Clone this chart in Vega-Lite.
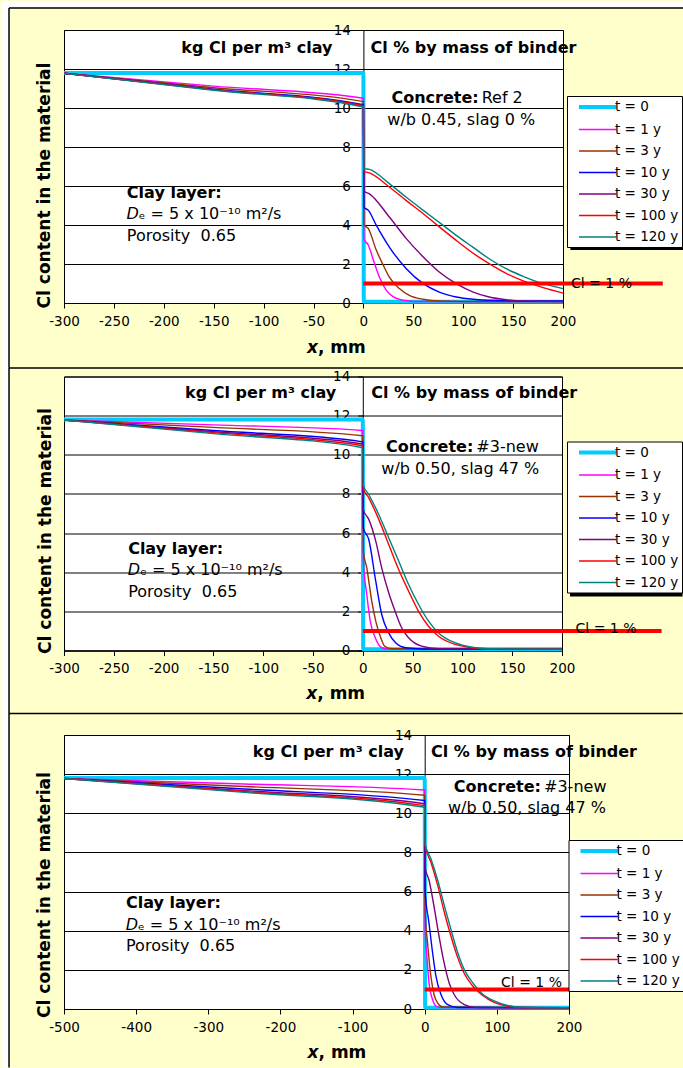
{
  "$schema": "https://vega.github.io/schema/vega-lite/v6.json",
  "background": "#FFFFCC",
  "padding": 0,
  "spacing": -4.5,
  "columns": 1,
  "align": "none",
  "config": {
    "font": "DejaVu Sans",
    "view": {"fill": "white", "stroke": "black", "strokeWidth": 1},
    "axis": {"labelFont": "DejaVu Sans", "labelFontSize": 13.5, "labelColor": "black", "domainColor": "black", "tickColor": "black", "gridColor": "black", "gridOpacity": 1, "gridWidth": 1, "titleFont": "DejaVu Sans", "titleFontWeight": "bold", "titleFontSize": 17, "titleColor": "black", "tickSize": 5, "labelOverlap": false, "labelExpr": "replace(datum.label, '\u2212', '-')"},
    "axisY": {"labelPadding": 8, "titleBaseline": "alphabetic", "titleAlign": "center", "titleAngle": -90, "tickCount": 8},
    "axisX": {"labelPadding": 6, "labelFlush": false, "grid": false, "tickCount": 12},
    "legend": {"labelFont": "DejaVu Sans", "labelFontSize": 13.5, "labelColor": "black", "fillColor": "white", "strokeColor": "black", "padding": 3, "rowPadding": 7.5, "labelLimit": 300},
    "text": {"font": "DejaVu Sans", "color": "black"}
  },
  "resolve": {
    "scale": {"x": "independent", "y": "independent", "color": "independent", "strokeWidth": "independent"},
    "legend": {"color": "independent", "strokeWidth": "independent"}
  },
  "concat": [
    {
      "width": 499, "height": 273,
      "layer": [
        {"data": {"values": [{}]}, "mark": {"type": "rect", "fill": "white"}, "encoding": {"x": {"datum": -363.1}, "x2": {"datum": -355.1}, "y": {"datum": -3.33}, "y2": {"datum": 15.49}}},
        {"data": {"values": [{}]}, "mark": {"type": "rect", "fill": "white"}, "encoding": {"x": {"datum": -363.1}, "x2": {"datum": 320.6}, "y": {"datum": 15.13}, "y2": {"datum": 15.49}}},
        {"data": {"values": [{}]}, "mark": {"type": "rule", "color": "black", "strokeWidth": 1.5}, "encoding": {"x": {"datum": -355.1}, "y": {"datum": -3.33}, "y2": {"datum": 15.13}}},
        {"data": {"values": [{}]}, "mark": {"type": "rule", "color": "black", "strokeWidth": 1.5}, "encoding": {"x": {"datum": -355.1}, "x2": {"datum": 320.6}, "y": {"datum": 15.13}}},
        {"data": {"values": [{}]}, "mark": {"type": "rule", "color": "black", "strokeWidth": 1.5}, "encoding": {"x": {"datum": -355.1}, "x2": {"datum": 320.6}, "y": {"datum": -3.33}}},
        {
          "data": {"values": [
            {"t": "t = 0", "x": -300, "y": 11.8}, {"t": "t = 0", "x": 0, "y": 11.8}, {"t": "t = 0", "x": 0.4, "y": 0.06}, {"t": "t = 0", "x": 200, "y": 0.06},
            {"t": "t = 1 y", "x": -300, "y": 11.78}, {"t": "t = 1 y", "x": -150, "y": 11.12}, {"t": "t = 1 y", "x": 0, "y": 10.5}, {"t": "t = 1 y", "x": 0.5, "y": 3.3}, {"t": "t = 1 y", "x": 5, "y": 2.96}, {"t": "t = 1 y", "x": 10, "y": 2.2}, {"t": "t = 1 y", "x": 16, "y": 1.33}, {"t": "t = 1 y", "x": 23, "y": 0.65}, {"t": "t = 1 y", "x": 30, "y": 0.31}, {"t": "t = 1 y", "x": 40, "y": 0.14}, {"t": "t = 1 y", "x": 50, "y": 0.08}, {"t": "t = 1 y", "x": 100, "y": 0.07}, {"t": "t = 1 y", "x": 200, "y": 0.07},
            {"t": "t = 3 y", "x": -300, "y": 11.78}, {"t": "t = 3 y", "x": -150, "y": 11.04}, {"t": "t = 3 y", "x": 0, "y": 10.33}, {"t": "t = 3 y", "x": 0.5, "y": 4.03}, {"t": "t = 3 y", "x": 5, "y": 3.81}, {"t": "t = 3 y", "x": 13, "y": 2.7}, {"t": "t = 3 y", "x": 20, "y": 1.93}, {"t": "t = 3 y", "x": 26, "y": 1.33}, {"t": "t = 3 y", "x": 36, "y": 0.74}, {"t": "t = 3 y", "x": 46, "y": 0.39}, {"t": "t = 3 y", "x": 60, "y": 0.19}, {"t": "t = 3 y", "x": 76, "y": 0.1}, {"t": "t = 3 y", "x": 100, "y": 0.08}, {"t": "t = 3 y", "x": 200, "y": 0.07},
            {"t": "t = 10 y", "x": -300, "y": 11.78}, {"t": "t = 10 y", "x": -150, "y": 10.96}, {"t": "t = 10 y", "x": 0, "y": 10.17}, {"t": "t = 10 y", "x": 0.5, "y": 4.92}, {"t": "t = 10 y", "x": 5, "y": 4.75}, {"t": "t = 10 y", "x": 13, "y": 3.98}, {"t": "t = 10 y", "x": 26, "y": 2.87}, {"t": "t = 10 y", "x": 43, "y": 1.76}, {"t": "t = 10 y", "x": 60, "y": 0.99}, {"t": "t = 10 y", "x": 76, "y": 0.56}, {"t": "t = 10 y", "x": 93, "y": 0.31}, {"t": "t = 10 y", "x": 110, "y": 0.19}, {"t": "t = 10 y", "x": 126, "y": 0.14}, {"t": "t = 10 y", "x": 150, "y": 0.11}, {"t": "t = 10 y", "x": 200, "y": 0.1},
            {"t": "t = 30 y", "x": -300, "y": 11.78}, {"t": "t = 30 y", "x": -150, "y": 10.94}, {"t": "t = 30 y", "x": 0, "y": 10.13}, {"t": "t = 30 y", "x": 0.5, "y": 5.74}, {"t": "t = 30 y", "x": 6, "y": 5.6}, {"t": "t = 30 y", "x": 26, "y": 4.41}, {"t": "t = 30 y", "x": 43, "y": 3.3}, {"t": "t = 30 y", "x": 60, "y": 2.36}, {"t": "t = 30 y", "x": 76, "y": 1.59}, {"t": "t = 30 y", "x": 93, "y": 0.99}, {"t": "t = 30 y", "x": 110, "y": 0.56}, {"t": "t = 30 y", "x": 126, "y": 0.31}, {"t": "t = 30 y", "x": 143, "y": 0.17}, {"t": "t = 30 y", "x": 160, "y": 0.1}, {"t": "t = 30 y", "x": 200, "y": 0.08},
            {"t": "t = 100 y", "x": -300, "y": 11.78}, {"t": "t = 100 y", "x": -150, "y": 10.93}, {"t": "t = 100 y", "x": 0, "y": 10.1}, {"t": "t = 100 y", "x": 0.5, "y": 6.75}, {"t": "t = 100 y", "x": 6, "y": 6.67}, {"t": "t = 100 y", "x": 26, "y": 5.95}, {"t": "t = 100 y", "x": 43, "y": 5.25}, {"t": "t = 100 y", "x": 60, "y": 4.58}, {"t": "t = 100 y", "x": 73, "y": 4.03}, {"t": "t = 100 y", "x": 93, "y": 3.21}, {"t": "t = 100 y", "x": 110, "y": 2.55}, {"t": "t = 100 y", "x": 126, "y": 2.02}, {"t": "t = 100 y", "x": 143, "y": 1.52}, {"t": "t = 100 y", "x": 160, "y": 1.13}, {"t": "t = 100 y", "x": 180, "y": 0.79}, {"t": "t = 100 y", "x": 200, "y": 0.51},
            {"t": "t = 120 y", "x": -300, "y": 11.78}, {"t": "t = 120 y", "x": -150, "y": 10.91}, {"t": "t = 120 y", "x": 0, "y": 10.05}, {"t": "t = 120 y", "x": 0.5, "y": 6.89}, {"t": "t = 120 y", "x": 6, "y": 6.85}, {"t": "t = 120 y", "x": 26, "y": 6.12}, {"t": "t = 120 y", "x": 43, "y": 5.42}, {"t": "t = 120 y", "x": 60, "y": 4.75}, {"t": "t = 120 y", "x": 80, "y": 3.98}, {"t": "t = 120 y", "x": 93, "y": 3.47}, {"t": "t = 120 y", "x": 110, "y": 2.85}, {"t": "t = 120 y", "x": 126, "y": 2.27}, {"t": "t = 120 y", "x": 143, "y": 1.76}, {"t": "t = 120 y", "x": 160, "y": 1.37}, {"t": "t = 120 y", "x": 180, "y": 0.99}, {"t": "t = 120 y", "x": 200, "y": 0.74}
          ]},
          "mark": {"type": "line", "interpolate": "monotone"},
          "encoding": {
            "x": {"field": "x", "type": "quantitative", "scale": {"domain": [-300, 200], "nice": false, "zero": false}, "axis": {"values": [-300, -250, -200, -150, -100, -50, 0, 50, 100, 150, 200], "title": null}},
            "y": {"field": "y", "type": "quantitative", "scale": {"domain": [0, 14], "nice": false}, "axis": {"values": [0, 2, 4, 6, 8, 10, 12, 14], "offset": -299.4, "grid": true, "title": "Cl content in the material", "titleX": -314, "titleY": 155}},
            "color": {"field": "t", "type": "nominal", "scale": {"domain": ["t = 0", "t = 1 y", "t = 3 y", "t = 10 y", "t = 30 y", "t = 100 y", "t = 120 y"], "range": ["#00CCFF", "#FF00FF", "#993300", "#0000FF", "#800080", "#FF0000", "#008080"]}, "legend": {"orient": "none", "legendX": 503, "legendY": 66, "title": null, "symbolType": "M-3.1,0L3.1,0", "symbolSize": 144, "symbolOffset": 19.6, "labelOffset": 9.4}},
            "strokeWidth": {"field": "t", "type": "nominal", "scale": {"type": "ordinal", "domain": ["t = 0", "t = 1 y", "t = 3 y", "t = 10 y", "t = 30 y", "t = 100 y", "t = 120 y"], "range": [4, 1.4, 1.4, 1.4, 1.4, 1.4, 1.4]}, "legend": {"orient": "none", "legendX": 503, "legendY": 66, "title": null, "symbolType": "M-3.1,0L3.1,0", "symbolSize": 144, "symbolOffset": 19.6, "labelOffset": 9.4}}
          }
        },
        {"data": {"values": [{}]}, "mark": {"type": "rule", "color": "#FF0000", "strokeWidth": 4}, "encoding": {"x": {"datum": 0}, "x2": {"datum": 300}, "y": {"datum": 1}}},
        {"data": {"values": [{}]}, "mark": {"type": "rect", "fill": "black"}, "encoding": {"x": {"datum": 207.4}, "x2": {"datum": 320.6}, "y": {"datum": 2.72}, "y2": {"datum": 10.46}}},
        {"data": {"values": [{"x": -31, "y": 13.1, "text": "kg Cl per m³ clay"}, {"x": 115.5, "y": 10.5, "text": "Concrete:"}]}, "mark": {"type": "text", "fontSize": 16, "fontWeight": "bold", "align": "right", "baseline": "middle"}, "encoding": {"x": {"field": "x", "type": "quantitative"}, "y": {"field": "y", "type": "quantitative"}, "text": {"field": "text"}}},
        {"data": {"values": [{"x": 7, "y": 13.1, "text": "Cl % by mass of binder"}, {"x": -237, "y": 5.65, "text": "Clay layer:"}]}, "mark": {"type": "text", "fontSize": 16, "fontWeight": "bold", "align": "left", "baseline": "middle"}, "encoding": {"x": {"field": "x", "type": "quantitative"}, "y": {"field": "y", "type": "quantitative"}, "text": {"field": "text"}}},
        {"data": {"values": [{"x": -45.5, "y": -2.3, "text": ", mm"}]}, "mark": {"type": "text", "fontSize": 17, "fontWeight": "bold", "align": "left", "baseline": "middle"}, "encoding": {"x": {"field": "x", "type": "quantitative"}, "y": {"field": "y", "type": "quantitative"}, "text": {"field": "text"}}},
        {"data": {"values": [{"x": 118.5, "y": 10.5, "text": "Ref 2"}, {"x": 24, "y": 9.4, "text": "w/b 0.45, slag 0 %"}, {"x": -225, "y": 4.55, "text": "ₑ = 5 x 10⁻¹⁰ m²/s"}, {"x": -237, "y": 3.45, "text": "Porosity\u00a0 0.65"}]}, "mark": {"type": "text", "fontSize": 16, "align": "left", "baseline": "middle"}, "encoding": {"x": {"field": "x", "type": "quantitative"}, "y": {"field": "y", "type": "quantitative"}, "text": {"field": "text"}}},
        {"data": {"values": [{"x": -225, "y": 4.55, "text": "D"}]}, "mark": {"type": "text", "fontSize": 16, "fontStyle": "italic", "align": "right", "baseline": "middle"}, "encoding": {"x": {"field": "x", "type": "quantitative"}, "y": {"field": "y", "type": "quantitative"}, "text": {"field": "text"}}},
        {"data": {"values": [{"x": -45.5, "y": -2.3, "text": "x"}]}, "mark": {"type": "text", "fontSize": 17, "fontStyle": "italic", "fontWeight": "bold", "align": "right", "baseline": "middle"}, "encoding": {"x": {"field": "x", "type": "quantitative"}, "y": {"field": "y", "type": "quantitative"}, "text": {"field": "text"}}},
        {"data": {"values": [{"x": 208, "y": 1.0, "text": "Cl = 1 %"}]}, "mark": {"type": "text", "fontSize": 14, "align": "left", "baseline": "middle"}, "encoding": {"x": {"field": "x", "type": "quantitative"}, "y": {"field": "y", "type": "quantitative"}, "text": {"field": "text"}}}
      ]
    },
    {
      "width": 498, "height": 274,
      "layer": [
        {"data": {"values": [{}]}, "mark": {"type": "rect", "fill": "white"}, "encoding": {"x": {"datum": -363.25}, "x2": {"datum": -355.2}, "y": {"datum": -3.22}, "y2": {"datum": 14.46}}},
        {"data": {"values": [{}]}, "mark": {"type": "rule", "color": "black", "strokeWidth": 1.5}, "encoding": {"x": {"datum": -355.2}, "y": {"datum": -3.22}, "y2": {"datum": 14.46}}},
        {"data": {"values": [{}]}, "mark": {"type": "rule", "color": "black", "strokeWidth": 1.5}, "encoding": {"x": {"datum": -355.2}, "x2": {"datum": 321.1}, "y": {"datum": -3.22}}},
        {
          "data": {"values": [
            {"t": "t = 0", "x": -300, "y": 11.8}, {"t": "t = 0", "x": 0, "y": 11.8}, {"t": "t = 0", "x": 0.4, "y": 0.06}, {"t": "t = 0", "x": 200, "y": 0.06},
            {"t": "t = 1 y", "x": -300, "y": 11.78}, {"t": "t = 1 y", "x": -150, "y": 11.53}, {"t": "t = 1 y", "x": 0, "y": 11.24}, {"t": "t = 1 y", "x": 0.5, "y": 4.6}, {"t": "t = 1 y", "x": 4, "y": 2.86}, {"t": "t = 1 y", "x": 7.5, "y": 1.5}, {"t": "t = 1 y", "x": 12.5, "y": 0.65}, {"t": "t = 1 y", "x": 19, "y": 0.14}, {"t": "t = 1 y", "x": 25, "y": 0.08}, {"t": "t = 1 y", "x": 200, "y": 0.07},
            {"t": "t = 3 y", "x": -300, "y": 11.78}, {"t": "t = 3 y", "x": -150, "y": 11.4}, {"t": "t = 3 y", "x": 0, "y": 10.97}, {"t": "t = 3 y", "x": 0.5, "y": 5.08}, {"t": "t = 3 y", "x": 4, "y": 4.22}, {"t": "t = 3 y", "x": 9, "y": 2.52}, {"t": "t = 3 y", "x": 13, "y": 1.5}, {"t": "t = 3 y", "x": 18, "y": 0.65}, {"t": "t = 3 y", "x": 22, "y": 0.22}, {"t": "t = 3 y", "x": 29, "y": 0.09}, {"t": "t = 3 y", "x": 200, "y": 0.07},
            {"t": "t = 10 y", "x": -300, "y": 11.78}, {"t": "t = 10 y", "x": -150, "y": 11.24}, {"t": "t = 10 y", "x": 0, "y": 10.66}, {"t": "t = 10 y", "x": 0.5, "y": 6.27}, {"t": "t = 10 y", "x": 6, "y": 5.67}, {"t": "t = 10 y", "x": 13, "y": 3.54}, {"t": "t = 10 y", "x": 19, "y": 1.84}, {"t": "t = 10 y", "x": 26, "y": 0.9}, {"t": "t = 10 y", "x": 33, "y": 0.39}, {"t": "t = 10 y", "x": 43, "y": 0.14}, {"t": "t = 10 y", "x": 60, "y": 0.08}, {"t": "t = 10 y", "x": 200, "y": 0.07},
            {"t": "t = 30 y", "x": -300, "y": 11.78}, {"t": "t = 30 y", "x": -150, "y": 11.18}, {"t": "t = 30 y", "x": 0, "y": 10.55}, {"t": "t = 30 y", "x": 0.5, "y": 7.2}, {"t": "t = 30 y", "x": 6, "y": 6.7}, {"t": "t = 30 y", "x": 13, "y": 5.59}, {"t": "t = 30 y", "x": 19, "y": 4.22}, {"t": "t = 30 y", "x": 26, "y": 2.95}, {"t": "t = 30 y", "x": 33, "y": 1.93}, {"t": "t = 30 y", "x": 39, "y": 1.16}, {"t": "t = 30 y", "x": 46, "y": 0.65}, {"t": "t = 30 y", "x": 59, "y": 0.22}, {"t": "t = 30 y", "x": 76, "y": 0.09}, {"t": "t = 30 y", "x": 200, "y": 0.07},
            {"t": "t = 100 y", "x": -300, "y": 11.78}, {"t": "t = 100 y", "x": -150, "y": 11.13}, {"t": "t = 100 y", "x": 0, "y": 10.46}, {"t": "t = 100 y", "x": 0.5, "y": 8.28}, {"t": "t = 100 y", "x": 6, "y": 7.8}, {"t": "t = 100 y", "x": 16, "y": 6.7}, {"t": "t = 100 y", "x": 26, "y": 5.42}, {"t": "t = 100 y", "x": 36, "y": 4.14}, {"t": "t = 100 y", "x": 46, "y": 3.03}, {"t": "t = 100 y", "x": 56, "y": 2.0}, {"t": "t = 100 y", "x": 66, "y": 1.24}, {"t": "t = 100 y", "x": 76, "y": 0.73}, {"t": "t = 100 y", "x": 93, "y": 0.31}, {"t": "t = 100 y", "x": 110, "y": 0.14}, {"t": "t = 100 y", "x": 130, "y": 0.08}, {"t": "t = 100 y", "x": 200, "y": 0.07},
            {"t": "t = 120 y", "x": -300, "y": 11.78}, {"t": "t = 120 y", "x": -150, "y": 11.08}, {"t": "t = 120 y", "x": 0, "y": 10.36}, {"t": "t = 120 y", "x": 0.5, "y": 8.45}, {"t": "t = 120 y", "x": 6, "y": 7.97}, {"t": "t = 120 y", "x": 16, "y": 6.95}, {"t": "t = 120 y", "x": 26, "y": 5.76}, {"t": "t = 120 y", "x": 36, "y": 4.57}, {"t": "t = 120 y", "x": 46, "y": 3.37}, {"t": "t = 120 y", "x": 56, "y": 2.35}, {"t": "t = 120 y", "x": 66, "y": 1.5}, {"t": "t = 120 y", "x": 76, "y": 0.9}, {"t": "t = 120 y", "x": 93, "y": 0.39}, {"t": "t = 120 y", "x": 110, "y": 0.17}, {"t": "t = 120 y", "x": 126, "y": 0.09}, {"t": "t = 120 y", "x": 200, "y": 0.07}
          ]},
          "mark": {"type": "line", "interpolate": "monotone"},
          "encoding": {
            "x": {"field": "x", "type": "quantitative", "scale": {"domain": [-300, 200], "nice": false, "zero": false}, "axis": {"values": [-300, -250, -200, -150, -100, -50, 0, 50, 100, 150, 200], "title": null}},
            "y": {"field": "y", "type": "quantitative", "scale": {"domain": [0, 14], "nice": false}, "axis": {"values": [0, 2, 4, 6, 8, 10, 12, 14], "offset": -298.8, "grid": true, "title": "Cl content in the material", "titleX": -312, "titleY": 154}},
            "color": {"field": "t", "type": "nominal", "scale": {"domain": ["t = 0", "t = 1 y", "t = 3 y", "t = 10 y", "t = 30 y", "t = 100 y", "t = 120 y"], "range": ["#00CCFF", "#FF00FF", "#993300", "#0000FF", "#800080", "#FF0000", "#008080"]}, "legend": {"orient": "none", "legendX": 503, "legendY": 65, "title": null, "symbolType": "M-3.1,0L3.1,0", "symbolSize": 144, "symbolOffset": 19.6, "labelOffset": 9.4}},
            "strokeWidth": {"field": "t", "type": "nominal", "scale": {"type": "ordinal", "domain": ["t = 0", "t = 1 y", "t = 3 y", "t = 10 y", "t = 30 y", "t = 100 y", "t = 120 y"], "range": [4, 1.4, 1.4, 1.4, 1.4, 1.4, 1.4]}, "legend": {"orient": "none", "legendX": 503, "legendY": 65, "title": null, "symbolType": "M-3.1,0L3.1,0", "symbolSize": 144, "symbolOffset": 19.6, "labelOffset": 9.4}}
          }
        },
        {"data": {"values": [{}]}, "mark": {"type": "rule", "color": "#FF0000", "strokeWidth": 4}, "encoding": {"x": {"datum": 0}, "x2": {"datum": 300}, "y": {"datum": 1}}},
        {"data": {"values": [{}]}, "mark": {"type": "rect", "fill": "black"}, "encoding": {"x": {"datum": 208}, "x2": {"datum": 321.1}, "y": {"datum": 2.76}, "y2": {"datum": 10.53}}},
        {"data": {"values": [{"x": -26.6, "y": 13.15, "text": "kg Cl per m³ clay"}, {"x": 111, "y": 10.39, "text": "Concrete:"}]}, "mark": {"type": "text", "fontSize": 16, "fontWeight": "bold", "align": "right", "baseline": "middle"}, "encoding": {"x": {"field": "x", "type": "quantitative"}, "y": {"field": "y", "type": "quantitative"}, "text": {"field": "text"}}},
        {"data": {"values": [{"x": 8.5, "y": 13.15, "text": "Cl % by mass of binder"}, {"x": -235.6, "y": 5.21, "text": "Clay layer:"}]}, "mark": {"type": "text", "fontSize": 16, "fontWeight": "bold", "align": "left", "baseline": "middle"}, "encoding": {"x": {"field": "x", "type": "quantitative"}, "y": {"field": "y", "type": "quantitative"}, "text": {"field": "text"}}},
        {"data": {"values": [{"x": -45.7, "y": -2.2, "text": ", mm"}]}, "mark": {"type": "text", "fontSize": 17, "fontWeight": "bold", "align": "left", "baseline": "middle"}, "encoding": {"x": {"field": "x", "type": "quantitative"}, "y": {"field": "y", "type": "quantitative"}, "text": {"field": "text"}}},
        {"data": {"values": [{"x": 114, "y": 10.39, "text": "#3-new"}, {"x": 18.6, "y": 9.28, "text": "w/b 0.50, slag 47 %"}, {"x": -223.5, "y": 4.09, "text": "ₑ = 5 x 10⁻¹⁰ m²/s"}, {"x": -235.6, "y": 3.01, "text": "Porosity\u00a0 0.65"}]}, "mark": {"type": "text", "fontSize": 16, "align": "left", "baseline": "middle"}, "encoding": {"x": {"field": "x", "type": "quantitative"}, "y": {"field": "y", "type": "quantitative"}, "text": {"field": "text"}}},
        {"data": {"values": [{"x": -223.5, "y": 4.09, "text": "D"}]}, "mark": {"type": "text", "fontSize": 16, "fontStyle": "italic", "align": "right", "baseline": "middle"}, "encoding": {"x": {"field": "x", "type": "quantitative"}, "y": {"field": "y", "type": "quantitative"}, "text": {"field": "text"}}},
        {"data": {"values": [{"x": -45.7, "y": -2.2, "text": "x"}]}, "mark": {"type": "text", "fontSize": 17, "fontStyle": "italic", "fontWeight": "bold", "align": "right", "baseline": "middle"}, "encoding": {"x": {"field": "x", "type": "quantitative"}, "y": {"field": "y", "type": "quantitative"}, "text": {"field": "text"}}},
        {"data": {"values": [{"x": 213.6, "y": 1.1, "text": "Cl = 1 %"}]}, "mark": {"type": "text", "fontSize": 14, "align": "left", "baseline": "middle"}, "encoding": {"x": {"field": "x", "type": "quantitative"}, "y": {"field": "y", "type": "quantitative"}, "text": {"field": "text"}}}
      ]
    },
    {
      "width": 505, "height": 274,
      "layer": [
        {"data": {"values": [{}]}, "mark": {"type": "rect", "fill": "white"}, "encoding": {"x": {"datum": -587.3}, "x2": {"datum": -576.2}, "y": {"datum": -2.99}, "y2": {"datum": 15.13}}},
        {"data": {"values": [{}]}, "mark": {"type": "rule", "color": "black", "strokeWidth": 1.5}, "encoding": {"x": {"datum": -576.2}, "y": {"datum": -2.99}, "y2": {"datum": 15.13}}},
        {
          "data": {"values": [
            {"t": "t = 0", "x": -500, "y": 11.8}, {"t": "t = 0", "x": 0, "y": 11.8}, {"t": "t = 0", "x": 0.6, "y": 0.06}, {"t": "t = 0", "x": 200, "y": 0.06},
            {"t": "t = 1 y", "x": -500, "y": 11.78}, {"t": "t = 1 y", "x": -250, "y": 11.5}, {"t": "t = 1 y", "x": 0, "y": 11.19}, {"t": "t = 1 y", "x": 0.5, "y": 4.03}, {"t": "t = 1 y", "x": 3, "y": 2.68}, {"t": "t = 1 y", "x": 6, "y": 1.32}, {"t": "t = 1 y", "x": 11, "y": 0.47}, {"t": "t = 1 y", "x": 15.7, "y": 0.14}, {"t": "t = 1 y", "x": 22, "y": 0.07}, {"t": "t = 1 y", "x": 200, "y": 0.06},
            {"t": "t = 3 y", "x": -500, "y": 11.78}, {"t": "t = 3 y", "x": -250, "y": 11.37}, {"t": "t = 3 y", "x": 0, "y": 10.92}, {"t": "t = 3 y", "x": 0.5, "y": 5.05}, {"t": "t = 3 y", "x": 4, "y": 3.36}, {"t": "t = 3 y", "x": 8.6, "y": 1.66}, {"t": "t = 3 y", "x": 13, "y": 0.73}, {"t": "t = 3 y", "x": 18, "y": 0.3}, {"t": "t = 3 y", "x": 25, "y": 0.1}, {"t": "t = 3 y", "x": 200, "y": 0.06},
            {"t": "t = 10 y", "x": -500, "y": 11.78}, {"t": "t = 10 y", "x": -250, "y": 11.24}, {"t": "t = 10 y", "x": 0, "y": 10.65}, {"t": "t = 10 y", "x": 0.5, "y": 6.07}, {"t": "t = 10 y", "x": 6, "y": 4.37}, {"t": "t = 10 y", "x": 11, "y": 2.85}, {"t": "t = 10 y", "x": 15.7, "y": 1.66}, {"t": "t = 10 y", "x": 22.7, "y": 0.73}, {"t": "t = 10 y", "x": 32, "y": 0.22}, {"t": "t = 10 y", "x": 45, "y": 0.08}, {"t": "t = 10 y", "x": 200, "y": 0.06},
            {"t": "t = 30 y", "x": -500, "y": 11.78}, {"t": "t = 30 y", "x": -250, "y": 11.16}, {"t": "t = 30 y", "x": 0, "y": 10.49}, {"t": "t = 30 y", "x": 0.5, "y": 7.25}, {"t": "t = 30 y", "x": 6, "y": 6.58}, {"t": "t = 30 y", "x": 13, "y": 5.22}, {"t": "t = 30 y", "x": 20, "y": 3.69}, {"t": "t = 30 y", "x": 27, "y": 2.34}, {"t": "t = 30 y", "x": 34, "y": 1.32}, {"t": "t = 30 y", "x": 41, "y": 0.73}, {"t": "t = 30 y", "x": 55, "y": 0.22}, {"t": "t = 30 y", "x": 70, "y": 0.08}, {"t": "t = 30 y", "x": 200, "y": 0.06},
            {"t": "t = 100 y", "x": -500, "y": 11.78}, {"t": "t = 100 y", "x": -250, "y": 11.11}, {"t": "t = 100 y", "x": 0, "y": 10.39}, {"t": "t = 100 y", "x": 0.5, "y": 8.36}, {"t": "t = 100 y", "x": 8.6, "y": 7.5}, {"t": "t = 100 y", "x": 18, "y": 6.32}, {"t": "t = 100 y", "x": 27, "y": 4.97}, {"t": "t = 100 y", "x": 36.6, "y": 3.69}, {"t": "t = 100 y", "x": 46, "y": 2.6}, {"t": "t = 100 y", "x": 55, "y": 1.8}, {"t": "t = 100 y", "x": 65, "y": 1.24}, {"t": "t = 100 y", "x": 79, "y": 0.73}, {"t": "t = 100 y", "x": 97, "y": 0.33}, {"t": "t = 100 y", "x": 115, "y": 0.14}, {"t": "t = 100 y", "x": 135, "y": 0.08}, {"t": "t = 100 y", "x": 200, "y": 0.06},
            {"t": "t = 120 y", "x": -500, "y": 11.78}, {"t": "t = 120 y", "x": -250, "y": 11.07}, {"t": "t = 120 y", "x": 0, "y": 10.31}, {"t": "t = 120 y", "x": 0.5, "y": 8.44}, {"t": "t = 120 y", "x": 8.6, "y": 7.68}, {"t": "t = 120 y", "x": 18, "y": 6.58}, {"t": "t = 120 y", "x": 27, "y": 5.31}, {"t": "t = 120 y", "x": 36.6, "y": 4.03}, {"t": "t = 120 y", "x": 46, "y": 2.85}, {"t": "t = 120 y", "x": 55, "y": 2.0}, {"t": "t = 120 y", "x": 65, "y": 1.41}, {"t": "t = 120 y", "x": 79, "y": 0.81}, {"t": "t = 120 y", "x": 97, "y": 0.4}, {"t": "t = 120 y", "x": 115, "y": 0.18}, {"t": "t = 120 y", "x": 135, "y": 0.09}, {"t": "t = 120 y", "x": 200, "y": 0.06}
          ]},
          "mark": {"type": "line", "interpolate": "monotone"},
          "encoding": {
            "x": {"field": "x", "type": "quantitative", "scale": {"domain": [-500, 200], "nice": false, "zero": false}, "axis": {"values": [-500, -400, -300, -200, -100, 0, 100, 200], "title": null}},
            "y": {"field": "y", "type": "quantitative", "scale": {"domain": [0, 14], "nice": false}, "axis": {"values": [0, 2, 4, 6, 8, 10, 12, 14], "offset": -360.7, "grid": true, "title": "Cl content in the material", "titleX": -375.7, "titleY": 159.5}},
            "color": {"field": "t", "type": "nominal", "scale": {"domain": ["t = 0", "t = 1 y", "t = 3 y", "t = 10 y", "t = 30 y", "t = 100 y", "t = 120 y"], "range": ["#00CCFF", "#FF00FF", "#993300", "#0000FF", "#800080", "#FF0000", "#008080"]}, "legend": {"orient": "none", "legendX": 504.5, "legendY": 105, "title": null, "symbolType": "M-3.1,0L3.1,0", "symbolSize": 144, "symbolOffset": 19.6, "labelOffset": 9.4}},
            "strokeWidth": {"field": "t", "type": "nominal", "scale": {"type": "ordinal", "domain": ["t = 0", "t = 1 y", "t = 3 y", "t = 10 y", "t = 30 y", "t = 100 y", "t = 120 y"], "range": [4, 1.4, 1.4, 1.4, 1.4, 1.4, 1.4]}, "legend": {"orient": "none", "legendX": 504.5, "legendY": 105, "title": null, "symbolType": "M-3.1,0L3.1,0", "symbolSize": 144, "symbolOffset": 19.6, "labelOffset": 9.4}}
          }
        },
        {"data": {"values": [{}]}, "mark": {"type": "rule", "color": "#FF0000", "strokeWidth": 4}, "encoding": {"x": {"datum": 0}, "x2": {"datum": 300}, "y": {"datum": 1}}},
        {"data": {"values": [{}]}, "mark": {"type": "rect", "fill": "black"}, "encoding": {"x": {"datum": 204.8}, "x2": {"datum": 358.1}, "y": {"datum": 0.92}, "y2": {"datum": 8.48}}},
        {"data": {"values": [{"x": -28.7, "y": 13.15, "text": "kg Cl per m³ clay"}, {"x": 161.2, "y": 11.36, "text": "Concrete:"}]}, "mark": {"type": "text", "fontSize": 16, "fontWeight": "bold", "align": "right", "baseline": "middle"}, "encoding": {"x": {"field": "x", "type": "quantitative"}, "y": {"field": "y", "type": "quantitative"}, "text": {"field": "text"}}},
        {"data": {"values": [{"x": 8.7, "y": 13.15, "text": "Cl % by mass of binder"}, {"x": -414, "y": 5.4, "text": "Clay layer:"}]}, "mark": {"type": "text", "fontSize": 16, "fontWeight": "bold", "align": "left", "baseline": "middle"}, "encoding": {"x": {"field": "x", "type": "quantitative"}, "y": {"field": "y", "type": "quantitative"}, "text": {"field": "text"}}},
        {"data": {"values": [{"x": -147.2, "y": -2.25, "text": ", mm"}]}, "mark": {"type": "text", "fontSize": 17, "fontWeight": "bold", "align": "left", "baseline": "middle"}, "encoding": {"x": {"field": "x", "type": "quantitative"}, "y": {"field": "y", "type": "quantitative"}, "text": {"field": "text"}}},
        {"data": {"values": [{"x": 165.4, "y": 11.36, "text": "#3-new"}, {"x": 32.3, "y": 10.25, "text": "w/b 0.50, slag 47 %"}, {"x": -397.4, "y": 4.29, "text": "ₑ = 5 x 10⁻¹⁰ m²/s"}, {"x": -414, "y": 3.22, "text": "Porosity\u00a0 0.65"}]}, "mark": {"type": "text", "fontSize": 16, "align": "left", "baseline": "middle"}, "encoding": {"x": {"field": "x", "type": "quantitative"}, "y": {"field": "y", "type": "quantitative"}, "text": {"field": "text"}}},
        {"data": {"values": [{"x": -397.4, "y": 4.29, "text": "D"}]}, "mark": {"type": "text", "fontSize": 16, "fontStyle": "italic", "align": "right", "baseline": "middle"}, "encoding": {"x": {"field": "x", "type": "quantitative"}, "y": {"field": "y", "type": "quantitative"}, "text": {"field": "text"}}},
        {"data": {"values": [{"x": -147.2, "y": -2.25, "text": "x"}]}, "mark": {"type": "text", "fontSize": 17, "fontStyle": "italic", "fontWeight": "bold", "align": "right", "baseline": "middle"}, "encoding": {"x": {"field": "x", "type": "quantitative"}, "y": {"field": "y", "type": "quantitative"}, "text": {"field": "text"}}},
        {"data": {"values": [{"x": 105.8, "y": 1.35, "text": "Cl = 1 %"}]}, "mark": {"type": "text", "fontSize": 14, "align": "left", "baseline": "middle"}, "encoding": {"x": {"field": "x", "type": "quantitative"}, "y": {"field": "y", "type": "quantitative"}, "text": {"field": "text"}}}
      ]
    }
  ]
}
